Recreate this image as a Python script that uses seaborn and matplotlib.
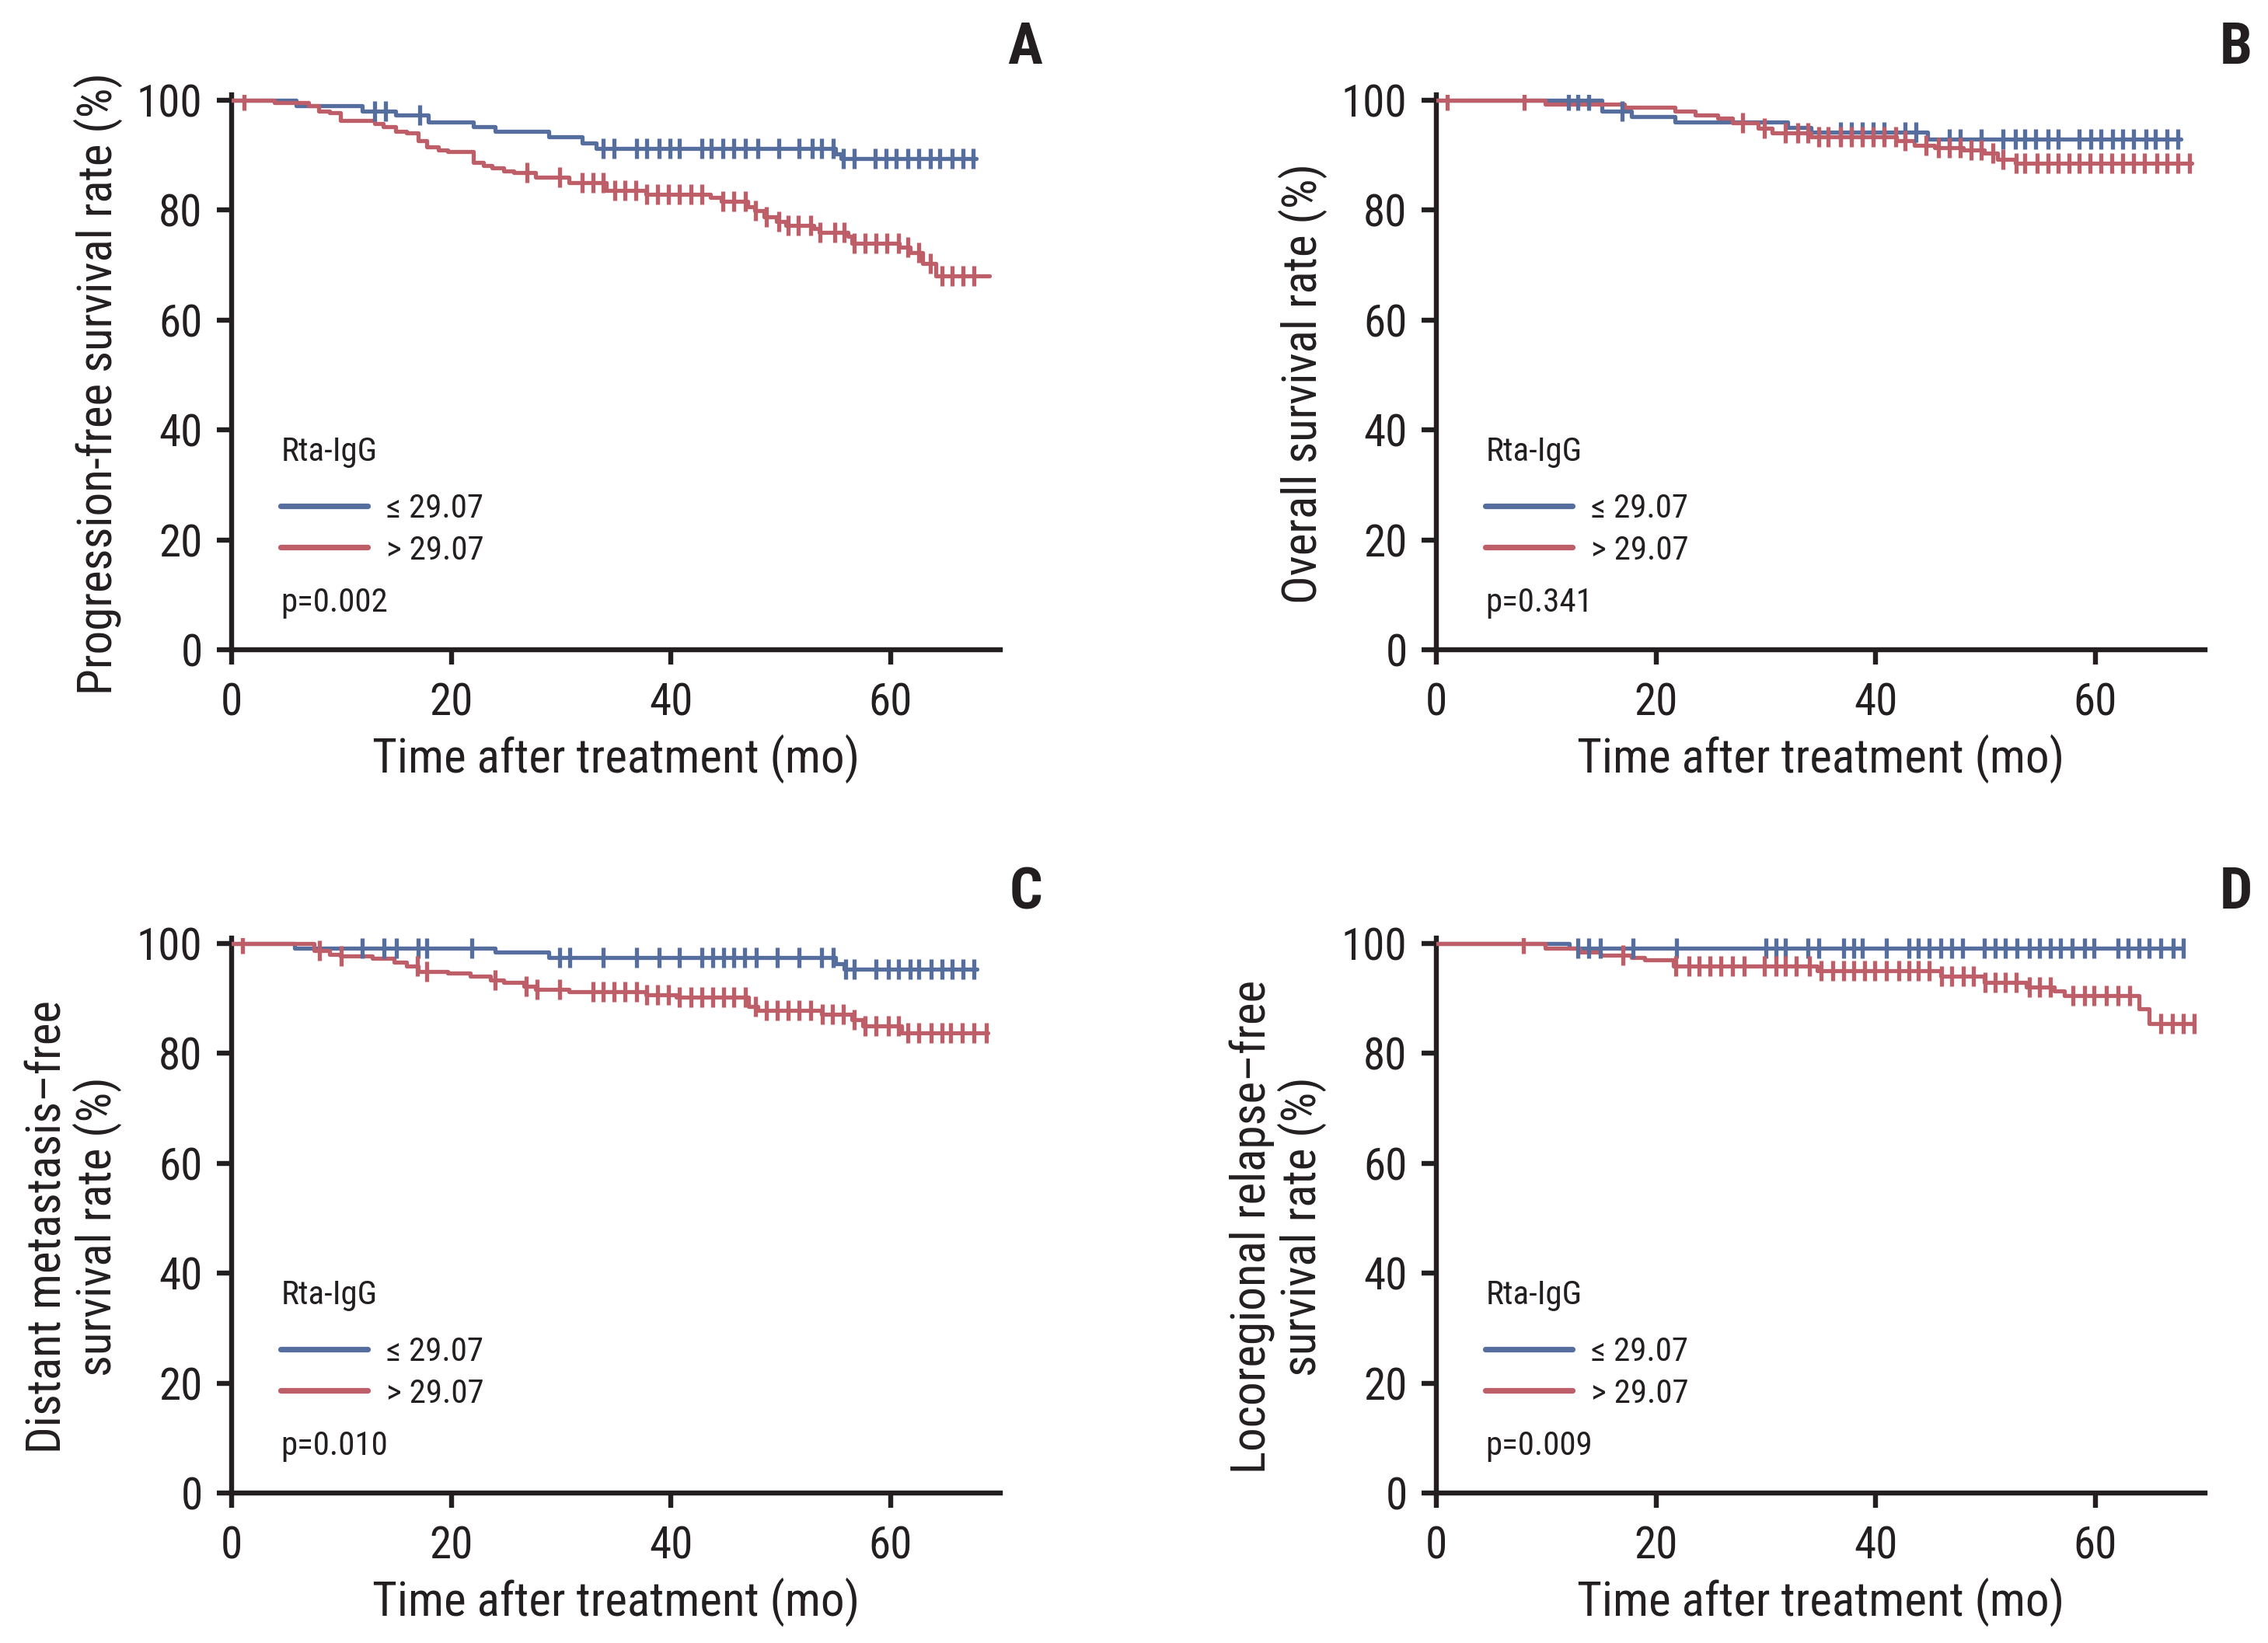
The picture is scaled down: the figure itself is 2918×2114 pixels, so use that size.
import numpy as np
import matplotlib
matplotlib.use("Agg")
import matplotlib.pyplot as plt
import matplotlib.font_manager as fm
from matplotlib.lines import Line2D
import seaborn as sns

# ---------------- data ----------------
group_labels = ["\u2264 29.07", "> 29.07"]
legend_title = "Rta-IgG"
panel_letters = ["A", "B", "C", "D"]
y_labels = ["Progression-free survival rate (%)",
            "Overall survival rate (%)",
            "Distant metastasis\u2013free\nsurvival rate (%)",
            "Locoregional relapse\u2013free\nsurvival rate (%)"]
p_values = ["p=0.002", "p=0.341", "p=0.010", "p=0.009"]
x_label = "Time after treatment (mo)"
x_ticks = [0, 20, 40, 60]
y_ticks = [0, 20, 40, 60, 80, 100]

# Panel A: progression-free survival
pfs_low_t = [0, 5.9, 11.9, 14.9, 17.9, 22.0, 24.0, 28.9, 31.9, 33.2, 55.0, 55.5, 67.8]
pfs_low_s = [100, 99.0, 98.1, 97.3, 96.1, 95.2, 94.3, 93.4, 92.2, 91.2, 90.3, 89.4, 89.4]
pfs_low_c = [13.0, 14.0, 17.1, 33.8, 34.8, 36.9, 37.8, 38.9, 39.9, 40.8, 42.8, 43.7, 44.7,
             45.7, 46.8, 47.9, 49.8, 51.7, 52.9, 53.7, 54.8, 55.7, 56.7, 58.6, 59.6, 60.5,
             61.6, 62.6, 63.6, 64.5, 65.6, 66.6, 67.5]
pfs_high_t = [0, 3.9, 7.0, 7.9, 8.9, 9.9, 13.0, 13.8, 14.9, 15.9, 17.0, 17.8, 18.8, 19.7,
              22.0, 22.9, 23.7, 24.8, 25.7, 27.7, 30.7, 34.1, 37.7, 43.6, 44.6, 47.0, 47.6,
              48.5, 49.6, 50.5, 53.0, 53.5, 56.1, 56.5, 60.8, 61.8, 62.9, 64.1, 69.0]
pfs_high_s = [100, 99.6, 99.0, 98.1, 97.7, 96.4, 95.7, 95.2, 94.3, 94.0, 92.6, 91.5, 91.0,
              90.7, 88.7, 88.1, 87.7, 87.2, 86.9, 86.0, 85.0, 83.6, 82.9, 82.3, 81.6, 80.6,
              79.9, 78.8, 78.0, 77.3, 76.6, 75.9, 75.2, 74.0, 73.3, 72.3, 70.3, 68.0, 68.0]
pfs_high_c = [1.1, 26.9, 29.9, 31.9, 32.9, 33.8, 34.9, 35.8, 36.8, 37.8, 38.8, 39.8, 40.8,
              41.8, 42.8, 44.7, 45.7, 46.8, 47.7, 48.7, 49.8, 50.7, 51.6, 52.7, 53.6, 54.9,
              55.8, 56.7, 57.7, 58.7, 59.7, 60.7, 61.6, 62.6, 63.6, 64.7, 65.6, 66.6, 67.6]

# Panel B: overall survival
os_low_t = [0, 15.1, 17.8, 21.7, 32.0, 34.1, 44.7, 67.8]
os_low_s = [100, 98.0, 97.0, 96.0, 95.1, 94.2, 92.9, 92.9]
os_low_c = [12.0, 12.9, 13.9, 16.9, 36.8, 37.8, 38.8, 39.8, 40.8, 42.7, 43.7, 46.7, 47.7,
            49.6, 51.6, 52.7, 53.6, 54.6, 55.7, 56.6, 58.5, 59.6, 60.5, 61.6, 62.5, 63.5,
            64.6, 65.5, 66.5, 67.5]
os_high_t = [0, 9.9, 17.1, 21.7, 23.6, 25.6, 27.0, 29.3, 30.6, 34.1, 41.9, 43.5, 45.4,
             48.0, 49.9, 51.1, 52.7, 68.8]
os_high_s = [100, 99.3, 98.7, 98.1, 97.3, 96.8, 95.9, 94.9, 94.1, 93.3, 92.6, 91.8, 91.4,
             90.9, 90.4, 89.3, 88.6, 88.6]
os_high_c = [1.0, 8.0, 27.9, 29.9, 31.8, 32.9, 33.8, 34.8, 35.7, 36.8, 37.8, 38.8, 39.8,
             40.8, 41.8, 42.7, 44.6, 45.7, 46.7, 47.7, 48.7, 49.6, 50.7, 51.6, 52.8, 53.6,
             54.7, 55.7, 56.6, 57.6, 58.5, 59.5, 60.5, 61.5, 62.5, 63.5, 64.5, 65.6, 66.5,
             67.5, 68.6]

# Panel C: distant metastasis-free survival
dmfs_low_t = [0, 5.7, 24.0, 28.9, 55.0, 55.8, 67.9]
dmfs_low_s = [100, 99.2, 98.4, 97.4, 96.4, 95.4, 95.4]
dmfs_low_c = [11.9, 13.9, 15.0, 17.0, 17.8, 21.9, 29.9, 30.8, 33.8, 36.9, 38.9, 40.8, 42.8,
              43.8, 44.8, 45.7, 46.7, 47.8, 49.7, 51.7, 53.7, 54.8, 55.9, 56.7, 58.7, 59.8,
              60.7, 61.8, 62.6, 63.7, 64.7, 65.6, 66.6, 67.6]
dmfs_high_t = [0, 7.5, 8.9, 9.9, 12.8, 14.8, 15.9, 17.0, 19.7, 21.7, 23.6, 24.8, 26.6, 27.7,
               30.7, 37.7, 40.5, 47.1, 47.9, 53.7, 56.5, 57.5, 61.0, 68.9]
dmfs_high_s = [100, 98.7, 98.1, 97.7, 97.3, 96.6, 95.9, 94.9, 94.6, 94.0, 93.3, 92.9, 92.3,
               91.6, 91.2, 90.7, 90.2, 88.6, 87.9, 87.2, 86.2, 85.0, 83.8, 83.8]
dmfs_high_c = [1.0, 8.0, 10.0, 16.9, 17.8, 24.0, 26.8, 27.8, 29.9, 32.9, 33.8, 34.8, 35.8,
               36.9, 37.8, 38.8, 39.8, 40.8, 41.8, 42.8, 43.8, 44.8, 45.7, 46.8, 47.7, 48.7,
               49.7, 50.7, 51.7, 52.7, 53.8, 54.7, 55.7, 56.7, 57.7, 58.7, 59.8, 60.7, 61.6,
               62.6, 63.7, 64.7, 65.5, 66.5, 67.6, 68.7]

# Panel D: locoregional relapse-free survival
lrfs_low_t = [0, 12.1, 68.0]
lrfs_low_s = [100, 99.1, 99.1]
lrfs_low_c = [12.9, 13.9, 14.9, 17.9, 21.9, 30.0, 30.9, 31.8, 33.8, 34.8, 37.1, 38.0, 38.8,
              41.0, 43.0, 43.9, 44.9, 45.9, 46.9, 47.9, 49.9, 50.9, 51.8, 52.9, 54.0, 54.9,
              55.9, 56.8, 57.9, 59.0, 59.9, 62.1, 63.0, 64.0, 64.9, 66.0, 67.1, 68.0]
lrfs_high_t = [0, 9.9, 13.0, 14.9, 17.8, 19.0, 21.6, 34.7, 45.9, 49.9, 53.7, 56.3, 57.2,
               64.0, 64.9, 69.0]
lrfs_high_s = [100, 99.1, 98.5, 97.9, 97.4, 97.0, 95.9, 95.0, 94.1, 93.0, 92.1, 91.4, 90.5,
               88.1, 85.4, 85.4]
lrfs_high_c = [7.9, 17.0, 21.8, 23.0, 23.9, 24.9, 25.9, 27.0, 28.0, 29.9, 30.9, 31.8, 32.8,
               34.0, 35.0, 36.1, 37.1, 38.0, 39.0, 39.9, 41.0, 42.1, 43.0, 43.9, 44.9, 46.0,
               46.9, 48.0, 48.9, 50.0, 50.9, 51.8, 52.8, 54.0, 54.9, 55.9, 58.0, 59.0, 59.9,
               61.0, 62.1, 63.1, 66.0, 67.0, 68.0, 69.0]

panels = [
    ((pfs_low_t, pfs_low_s, pfs_low_c), (pfs_high_t, pfs_high_s, pfs_high_c)),
    ((os_low_t, os_low_s, os_low_c), (os_high_t, os_high_s, os_high_c)),
    ((dmfs_low_t, dmfs_low_s, dmfs_low_c), (dmfs_high_t, dmfs_high_s, dmfs_high_c)),
    ((lrfs_low_t, lrfs_low_s, lrfs_low_c), (lrfs_high_t, lrfs_high_s, lrfs_high_c)),
]

# ---------------- style ----------------
sns.set_theme(style="ticks")

# pick a condensed sans font if one is installed
ttf = fm.fontManager.ttflist
names = {f.name for f in ttf}
font_family = None
font_stretch = "normal"
size_scale = 1.0
for cand in ["Liberation Sans Narrow", "Roboto Condensed", "Noto Sans Condensed",
             "Open Sans Condensed", "Noto Sans Display Condensed", "DejaVu Sans Condensed",
             "Open Sans SemiCondensed", "Noto Sans SemiCondensed"]:
    if cand in names:
        font_family = cand
        break
if font_family is None:
    for base in ["Roboto", "Noto Sans", "Open Sans", "Liberation Sans", "DejaVu Sans"]:
        if any(f.name == base and "condensed" in str(f.stretch).lower() for f in ttf):
            font_family = base
            font_stretch = "condensed"
            break
if font_family is None:
    font_family = "DejaVu Sans"
    size_scale = 0.85

plt.rcParams["font.family"] = [font_family, "DejaVu Sans"]
plt.rcParams["font.stretch"] = font_stretch

BLUE = "#566E9E"
RED = "#BE5E68"
INK = "#231f20"
colors = [BLUE, RED]
W, H, DPI = 2918, 2114, 200

fig = plt.figure(figsize=(W / DPI, H / DPI), dpi=DPI)

ax_w = 989 / W
ax_h = 714 / H
lefts = [298 / W, 1848 / W, 298 / W, 1848 / W]
bottoms = [1 - 836 / H, 1 - 836 / H, 1 - 1921 / H, 1 - 1921 / H]
label_x = [-0.142, -0.142, -0.143, -0.143]
letter_x = [1341 / W, 2898 / W, 1341 / W, 2898 / W]
letter_y = [1 - 62 / H, 1 - 62 / H, 1 - 1149 / H, 1 - 1149 / H]

fs_tick = 20.5 * size_scale
fs_label = 22 * size_scale
fs_leg = 15.5 * size_scale
fs_letter = 27 * size_scale


def step_value(t, s, c):
    t = np.asarray(t)
    s = np.asarray(s)
    idx = np.searchsorted(t, np.asarray(c), side="right") - 1
    return s[idx]


for i, groups in enumerate(panels):
    ax = fig.add_axes([lefts[i], bottoms[i], ax_w, ax_h])
    for (t, s, c), col in zip(groups, colors):
        sns.lineplot(x=t, y=s, ax=ax, color=col, lw=1.9, drawstyle="steps-post",
                     estimator=None, sort=False, legend=False, zorder=3)
        sns.scatterplot(x=c, y=step_value(t, s, c), ax=ax, marker="|", s=90,
                        linewidth=1.9, color=col, legend=False, zorder=4)
    ax.set_xlim(0, 70)
    ax.set_ylim(0, 101)
    ax.set_xticks(x_ticks)
    ax.set_yticks(y_ticks)
    for sp in ["top", "right"]:
        ax.spines[sp].set_visible(False)
    for sp in ["left", "bottom"]:
        ax.spines[sp].set_linewidth(2.3)
        ax.spines[sp].set_color(INK)
    ax.tick_params(axis="both", direction="out", length=7, width=2.3, color=INK,
                   labelsize=fs_tick, labelcolor=INK)
    ax.tick_params(axis="x", pad=8)
    ax.tick_params(axis="y", pad=6.5)
    ax.set_xlabel(x_label, fontsize=fs_label, color=INK, labelpad=4.5)
    ax.set_ylabel(y_labels[i], fontsize=fs_label, color=INK, linespacing=1.05)
    ax.yaxis.set_label_coords(label_x[i], 0.48)

    ax.text(0.064, 0.356, legend_title, transform=ax.transAxes, ha="left", va="center",
            fontsize=fs_leg, color=INK)
    handles = [Line2D([], [], color=col, lw=2.6) for col in colors]
    ax.legend(handles, group_labels, loc="center left", bbox_to_anchor=(0.064, 0.217),
              frameon=False, fontsize=fs_leg, handlelength=2.6, handletextpad=0.55,
              labelspacing=0.3, borderaxespad=0, borderpad=0, labelcolor=INK)
    ax.text(0.064, 0.085, p_values[i], transform=ax.transAxes, ha="left", va="center",
            fontsize=fs_leg, color=INK)
    fig.text(letter_x[i], letter_y[i], panel_letters[i], ha="right", va="center",
             fontsize=fs_letter, fontweight="bold", color=INK)

fig.savefig("out.png", dpi=DPI)
